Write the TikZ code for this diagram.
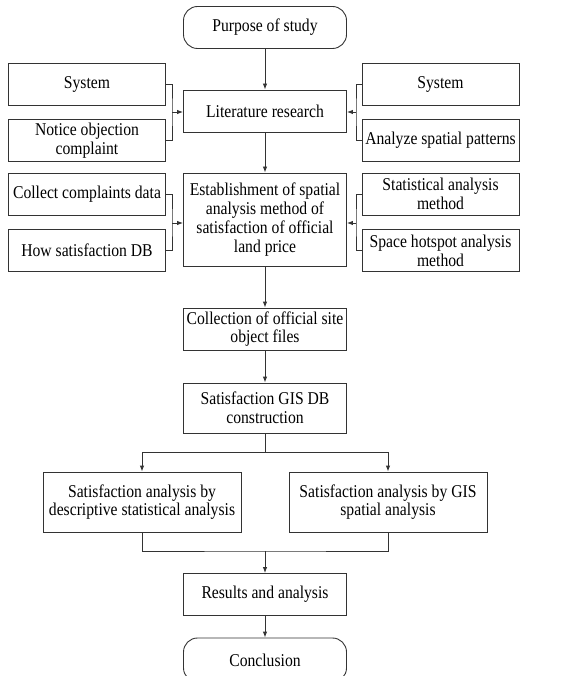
\documentclass[tikz,border=0pt]{standalone}
\usepackage{fontspec}
\setmainfont{Liberation Serif}[FakeStretch=0.87]
\usetikzlibrary{arrows.meta,positioning,calc}

\tikzset{
  box/.style={draw=black!80,line width=0.9pt,align=center,inner sep=2pt,
    font=\fontsize{18}{18.8}\selectfont},
  mainbox/.style={box,minimum width=163pt,minimum height=42pt},
  sidebox/.style={box,minimum width=157pt,minimum height=42pt},
  endbox/.style={mainbox,rounded corners=14pt},
  anbox/.style={box,minimum width=198pt,minimum height=60pt},
  link/.style={draw=black!80,line width=0.9pt},
  arr/.style={link,-{Latex[length=6pt,width=4.5pt]}}
}

\begin{document}
\begin{tikzpicture}[x=1pt,y=-1pt]
  \useasboundingbox (0,0) rectangle (582,676);

  % main column
  \node[endbox] (purpose) at (265,27.5) {Purpose of study};
  \node[mainbox] (lit) at (265,111) {Literature research};
  \node[mainbox,minimum height=93pt] (est) at (265,219.5)
    {Establishment of spatial\\analysis method of\\satisfaction of official\\land price};
  \node[mainbox] (coll) at (265,329) {Collection of official site\\object files};
  \node[mainbox,minimum height=50pt] (gis) at (265,408) {Satisfaction GIS DB\\construction};
  \node[anbox] (anL) at (142,502) {Satisfaction analysis by\\descriptive statistical analysis};
  \node[anbox] (anR) at (388,502) {Satisfaction analysis by GIS\\spatial analysis};
  \node[mainbox] (res) at (265,594.5) {Results and analysis};
  \node[endbox,minimum height=44pt] (concl) at (265,660) {Conclusion};

  % side boxes
  \node[sidebox] (sysL) at (87,84.5) {System};
  \node[sidebox] (notice) at (87,140.5) {Notice objection\\complaint};
  \node[sidebox] (sysR) at (440.5,84.5) {System};
  \node[sidebox] (pattern) at (440.5,140.5) {Analyze spatial patterns};
  \node[sidebox] (collect) at (87,194) {Collect complaints data};
  \node[sidebox] (how) at (87,250.5) {How satisfaction DB};
  \node[sidebox] (stat) at (440.5,194) {Statistical analysis\\method};
  \node[sidebox] (hot) at (440.5,250.5) {Space hotspot analysis\\method};

  \coordinate (lj1) at (172,112);
  \coordinate (rj1) at (356,112);
  \coordinate (lj2) at (172,223);
  \coordinate (rj2) at (356,223);
  \coordinate (split) at (265,452);
  \coordinate (merge) at (265,551);

  % brackets
  \draw[link] (sysL.east) -| (lj1) |- (notice.east);
  \draw[link] (sysR.west) -| (rj1) |- (pattern.west);
  \draw[link] (collect.east) -| (lj2) |- (how.east);
  \draw[link] (stat.west) -| (rj2) |- (hot.west);
  \draw[arr] (lj1) -- (lj1 -| lit.west);
  \draw[arr] (rj1) -- (rj1 -| lit.east);
  \draw[arr] (lj2) -- (lj2 -| est.west);
  \draw[arr] (rj2) -- (rj2 -| est.east);

  % flow
  \foreach \from/\to in {purpose/lit,lit/est,est/coll,coll/gis,res/concl}
    \draw[arr] (\from) -- (\to);
  \draw[link] (gis.south) -- (split);
  \draw[arr] (split) -| (anL.north);
  \draw[arr] (split) -| (anR.north);
  \draw[link] (anL.south) |- (merge) -| (anR.south);
  \draw[arr] (merge) -- (res.north);
\end{tikzpicture}
\end{document}
